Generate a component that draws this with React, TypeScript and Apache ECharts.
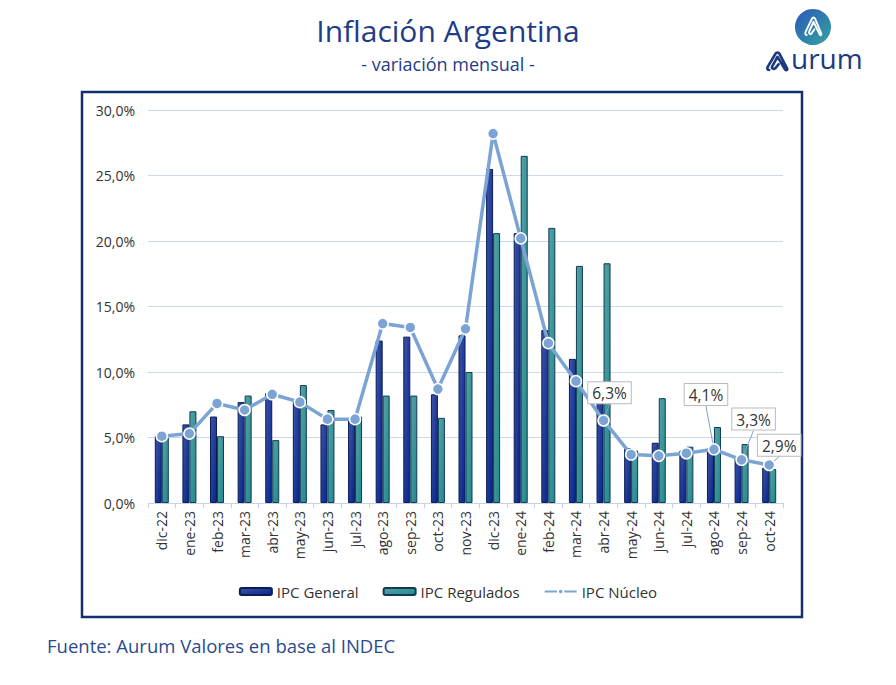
import React, { useEffect, useRef } from "react";
import * as echarts from "echarts";

const categories = ["dic-22","ene-23","feb-23","mar-23","abr-23","may-23","jun-23","jul-23","ago-23","sep-23","oct-23","nov-23","dic-23","ene-24","feb-24","mar-24","abr-24","may-24","jun-24","jul-24","ago-24","sep-24","oct-24"];
const ipcGeneral = [5.1, 6.0, 6.6, 7.7, 8.4, 7.8, 6.0, 6.3, 12.4, 12.7, 8.3, 12.8, 25.5, 20.6, 13.2, 11.0, 8.8, 4.2, 4.6, 4.0, 4.2, 3.5, 2.7];
const ipcRegulados = [5.0, 7.0, 5.1, 8.2, 4.8, 9.0, 7.1, 6.6, 8.2, 8.2, 6.5, 10.0, 20.6, 26.5, 21.0, 18.1, 18.3, 4.0, 8.0, 4.3, 5.8, 4.5, 2.6];
const ipcNucleo = [5.1, 5.3, 7.6, 7.1, 8.3, 7.7, 6.4, 6.4, 13.7, 13.4, 8.7, 13.3, 28.2, 20.2, 12.2, 9.3, 6.3, 3.7, 3.6, 3.8, 4.1, 3.3, 2.9];
const labeledPoints = ["abr-24", "ago-24", "sep-24", "oct-24"];
const yTicks = { min: 0, max: 30, interval: 5 };

const FONT = "'Open Sans', sans-serif";
const NAVY = "#1f3c88";

const fmt = (v: number) => v.toFixed(1).replace(".", ",") + "%";

const labelOffsets: Record<string, { dx: number; dy: number }> = {
  "abr-24": { dx: 6, dy: -6 },
  "ago-24": { dx: -8, dy: -33 },
  "sep-24": { dx: 12, dy: -19 },
  "oct-24": { dx: 10, dy: 2 },
};

export default function App() {
  const ref = useRef<HTMLDivElement>(null);
  useEffect(() => {
    if (!ref.current) return;
    echarts.graphic.registerShape(
      "aurumA",
      echarts.graphic.extendPath("M2 19 C0 19 0 17 1 15 L8 2 C9 0 11 0 12 2 L19 17 C20 19 18 20 17 18 L10 5 L5 15 C4 17 6 19 8 17 L11 13", {})
    );
    const chart = echarts.init(ref.current, null, { renderer: "svg" });
    const nucleoData = ipcNucleo.map((v, i) => {
      const c = categories[i];
      if (labeledPoints.includes(c)) {
        return {
          value: v,
          label: {
            show: true,
            formatter: fmt(v),
          },
        };
      }
      return v;
    });
    const option: any = {
      animation: false,
      backgroundColor: "#fff",
      title: [
        {
          text: "Inflación Argentina",
          left: "center",
          top: 15.5,
          padding: 0,
          textStyle: { fontFamily: FONT, fontSize: 30, lineHeight: 30, fontWeight: "normal", color: NAVY },
        },
        {
          text: "- variación mensual -",
          left: "center",
          top: 55,
          padding: 0,
          textStyle: { fontFamily: FONT, fontSize: 18, lineHeight: 18, fontWeight: "normal", color: NAVY },
        },
      ],
      graphic: [
        {
          type: "rect",
          shape: { x: 82, y: 92, width: 720, height: 525 },
          style: { fill: "none", stroke: "#12306e", lineWidth: 2.5 },
          z: 0,
        },
        {
          type: "circle",
          shape: { cx: 813, cy: 27, r: 18 },
          style: {
            fill: new echarts.graphic.LinearGradient(0, 0, 1, 1, [
              { offset: 0, color: "#2a58b8" },
              { offset: 1, color: "#36a3a0" },
            ]),
          },
        },
        {
          type: "aurumA",
          x: 805,
          y: 17,
          scaleX: 0.85,
          scaleY: 0.95,
          style: { fill: "none", stroke: "#fff", lineWidth: 2.2, lineCap: "round", lineJoin: "round" },
        },
        {
          type: "aurumA",
          x: 767,
          y: 52,
          scaleX: 1.05,
          scaleY: 0.95,
          style: { fill: "none", stroke: "#1b3a80", lineWidth: 2.6, lineCap: "round", lineJoin: "round" },
        },
        {
          type: "text",
          x: 791,
          y: 44,
          style: { text: "urum", font: `28px ${FONT}`, fill: "#1b3a80" },
        },
        {
          type: "text",
          x: 47,
          y: 636,
          style: { text: "Fuente: Aurum Valores en base al INDEC", font: `18.5px ${FONT}`, fill: "#2a4a90" },
        },
      ],
      grid: { left: 148, right: 113, top: 110, bottom: 182, containLabel: false },
      legend: {
        top: 579,
        left: "center",
        itemWidth: 32,
        itemHeight: 7,
        itemGap: 24,
        textStyle: { fontFamily: FONT, fontSize: 15, color: "#333" },
        data: ["IPC General", "IPC Regulados", "IPC Núcleo"],
      },
      xAxis: {
        type: "category",
        data: categories,
        axisLine: { lineStyle: { color: "#c5d3e8", width: 1 } },
        axisTick: { show: true, length: 5, lineStyle: { color: "#c5d3e8" } },
        axisLabel: { rotate: 90, fontFamily: FONT, fontSize: 14, color: "#333", margin: 8, interval: 0 },
      },
      yAxis: {
        type: "value",
        min: yTicks.min,
        max: yTicks.max,
        interval: yTicks.interval,
        axisLine: { show: false },
        axisTick: { show: false },
        splitLine: { lineStyle: { color: "#ccd8ee", width: 1 } },
        axisLabel: { formatter: (v: number) => fmt(v), fontFamily: FONT, fontSize: 14, color: "#333", margin: 13 },
      },
      series: [
        {
          name: "IPC General",
          type: "bar",
          data: ipcGeneral,
          barWidth: 7,
          barGap: "0%",
          itemStyle: {
            color: new echarts.graphic.LinearGradient(0, 0, 1, 1, [
              { offset: 0, color: "#3e54a8" },
              { offset: 1, color: "#06248a" },
            ]),
            borderColor: "#0a1d55",
            borderWidth: 1,
          },
        },
        {
          name: "IPC Regulados",
          type: "bar",
          data: ipcRegulados,
          barWidth: 7,
          barGap: "0%",
          itemStyle: {
            color: new echarts.graphic.LinearGradient(0, 0, 1, 1, [
              { offset: 0, color: "#55a2a4" },
              { offset: 1, color: "#208a8d" },
            ]),
            borderColor: "#123a55",
            borderWidth: 1,
          },
        },
        {
          name: "IPC Núcleo",
          type: "line",
          data: nucleoData,
          symbol: "circle",
          symbolSize: 11,
          lineStyle: { color: "#7ba3d3", width: 3.5 },
          itemStyle: { color: "#7ba3d3", borderColor: "#fff", borderWidth: 1.5 },
          label: {
            show: false,
            position: "top",
            fontFamily: FONT,
            fontSize: 15.5,
            color: "#333",
            backgroundColor: "#fff",
            borderColor: "#bbbbbb",
            borderWidth: 1,
            padding: [3, 4, 2, 4],
          },
          labelLine: { show: true, lineStyle: { color: "#7ba3d3", width: 1 } },
          labelLayout: (p: any) => {
            const o = labelOffsets[categories[p.dataIndex]];
            return o ? { dx: o.dx, dy: o.dy } : {};
          },
          z: 5,
        },
      ],
    };
    chart.setOption(option);
    return () => chart.dispose();
  }, []);
  return <div ref={ref} style={{ position: "fixed", left: 0, top: 0, width: 896, height: 685 }} />;
}
